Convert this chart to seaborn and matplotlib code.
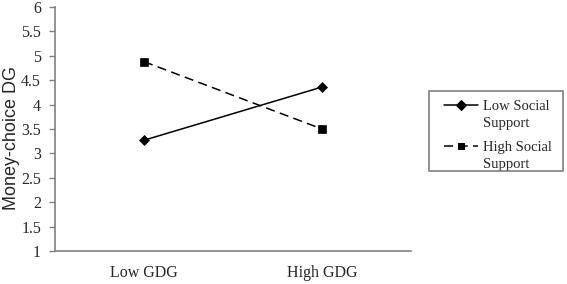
import matplotlib
matplotlib.use("Agg")
import matplotlib.pyplot as plt
from matplotlib.patches import Rectangle
import seaborn as sns
import pandas as pd

categories = ["Low GDG", "High GDG"]
low_support = [3.27, 4.36]
high_support = [4.88, 3.50]
series_names = ["Low Social\nSupport", "High Social\nSupport"]
y_ticks = [1, 1.5, 2, 2.5, 3, 3.5, 4, 4.5, 5, 5.5, 6]
y_tick_labels = ["1", "1.5", "2", "2.5", "3", "3.5", "4", "4.5", "5", "5.5", "6"]

sns.set_style("white")
plt.rcParams["font.family"] = ["Liberation Serif", "DejaVu Serif"]

W, H = 567, 284
df = pd.DataFrame({
    "GDG": categories * 2,
    "value": low_support + high_support,
    "group": [series_names[0]] * 2 + [series_names[1]] * 2,
})

fig = plt.figure(figsize=(W / 100, H / 100), dpi=100)
ax = fig.add_axes([55 / W, 33 / H, 356 / W, 244 / H])

sns.lineplot(
    data=df, x="GDG", y="value", hue="group", style="group",
    palette=["black", "black"], markers=["D", "s"],
    dashes=[(None, None), (6, 3.5)], markersize=5, linewidth=1.1,
    markeredgecolor="black", ax=ax, sort=False,
)
for line, ms in zip(ax.lines, [4.6, 5.2]):
    line.set_markersize(ms)
    line.set_markeredgewidth(0.5)

ax.set_xlim(-0.5, 1.5)
ax.set_ylim(1, 6)
ax.set_yticks(y_ticks)
ax.set_yticklabels(y_tick_labels, fontsize=11.5)
ax.set_xticks([0, 1])
ax.set_xticklabels(categories, fontsize=11.5)
ax.set_xticks([-0.5, 0.5, 1.5], minor=True)
ax.tick_params(axis="x", which="major", length=0, pad=10)
ax.tick_params(axis="x", which="minor", length=4, width=1, color="#808080", direction="out")
ax.tick_params(axis="y", length=4, width=1, color="#808080", direction="out", pad=6, left=True)
ax.set_xlabel("")
ax.set_ylabel("Money-choice DG", fontsize=13, family=["Liberation Sans", "DejaVu Sans"])
ax.yaxis.set_label_coords((20 - 55) / 356, (251 - 138) / 244)

for s in ["top", "right"]:
    ax.spines[s].set_visible(False)
for s in ["left", "bottom"]:
    ax.spines[s].set_color("#808080")
    ax.spines[s].set_linewidth(1.2)

handles, labels = ax.get_legend_handles_labels()
leg = ax.legend(
    handles, labels, loc="upper left", bbox_to_anchor=(444 / W, 1 - 100 / H),
    bbox_transform=fig.transFigure, frameon=False,
    fontsize=10.5, handlelength=2.3, handletextpad=0.35, borderpad=0,
    labelspacing=0.75, borderaxespad=0,
)
for t in leg.get_texts():
    t.set_linespacing(1.4)
for col in leg._legend_handle_box.get_children():
    for item in col.get_children():
        item.align = "top"
fig.patches.append(Rectangle((429 / W, 1 - 171 / H), 134 / W, 80 / H,
                             transform=fig.transFigure, fill=False,
                             edgecolor="#808080", linewidth=1.2))

fig.savefig("out.png", dpi=100, facecolor="white")
